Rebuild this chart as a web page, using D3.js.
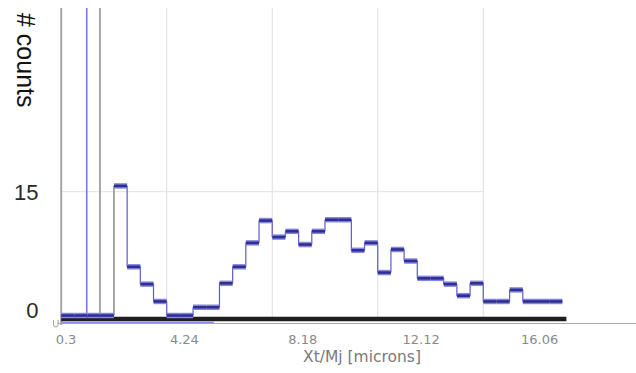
<!DOCTYPE html>
<html>
<head>
<meta charset="utf-8">
<script src="https://cdn.jsdelivr.net/npm/d3@7/dist/d3.min.js"></script>
<style>
  html, body { margin: 0; padding: 0; background: #fff; }
  svg { display: block; }
</style>
</head>
<body>
<svg id="chart" width="636" height="373"></svg>
<script>
// Histogram of Xt/Mj sizes (microns)
const binStart = 0.14;          // left edge of first bin
const binWidth = 0.4389;        // bin width in microns
const counts = [0, 0, 0, 0, 15.7, 5.9, 3.8, 1.7, 0, 0, 1.0, 1.0, 3.9, 5.9, 8.8, 11.5,
                9.5, 10.2, 8.6, 10.2, 11.6, 11.6, 7.9, 8.8, 5.2, 8.0, 6.6, 4.5, 4.5, 3.8,
                2.4, 3.9, 1.7, 1.7, 3.1, 1.7, 1.7, 1.7];
const xTickValues = [0.3, 4.24, 8.18, 12.12, 16.06];
const xTickLabels = ["0.3", "4.24", "8.18", "12.12", "16.06"];
const yTickValues = [0, 15];
const blueMarker = 0.99;        // selected threshold
const grayMarker = 1.43;        // lower cutoff
const lowTraceEnd = 5.22;       // extent of the secondary trace
const gridEvery = 8;            // vertical grid every N bins

const svg = d3.select("#chart");
const W = 636, H = 373;
const plotTop = 8;

const x = d3.scaleLinear().domain([0.3, 16.06]).range([66, 539.6]);
const y = d3.scaleLinear().domain([0, 15]).range([315.5, 191.7]);

const edges = d3.range(counts.length + 1).map(i => binStart + i * binWidth);
const bins = counts.map((c, i) => ({ x0: edges[i], x1: edges[i + 1], v: c, i }));
const gridXs = edges.filter((e, i) => i > 0 && i % gridEvery === 0);
const lastGrid = gridXs[gridXs.length - 1];

// grid
const grid = svg.append("g");
grid.selectAll("line.vg").data(gridXs).join("line")
  .attr("x1", d => x(d)).attr("x2", d => x(d))
  .attr("y1", plotTop).attr("y2", y(0) + 3)
  .attr("stroke", "#dedede").attr("stroke-width", 1);
grid.append("line")
  .attr("x1", x(binStart)).attr("x2", x(lastGrid))
  .attr("y1", y(15)).attr("y2", y(15))
  .attr("stroke", "#e2e2e2").attr("stroke-width", 1);

// x axis line
svg.append("line")
  .attr("x1", 58).attr("x2", W)
  .attr("y1", 323.5).attr("y2", 323.5)
  .attr("stroke", "#a8a8a8").attr("stroke-width", 1.2);

// left frame and markers
svg.append("line")
  .attr("x1", x(binStart)).attr("x2", x(binStart))
  .attr("y1", plotTop).attr("y2", 325)
  .attr("stroke", "#a5a5a5").attr("stroke-width", 2);
svg.append("line")
  .attr("x1", x(blueMarker)).attr("x2", x(blueMarker))
  .attr("y1", plotTop).attr("y2", y(0))
  .attr("stroke", "#7a7ae0").attr("stroke-width", 1.6);
svg.append("line")
  .attr("x1", x(grayMarker)).attr("x2", x(grayMarker))
  .attr("y1", plotTop).attr("y2", y(0))
  .attr("stroke", "#a0a0a0").attr("stroke-width", 1.8);

// secondary trace under the baseline
svg.append("line")
  .attr("x1", x(binStart)).attr("x2", x(lowTraceEnd))
  .attr("y1", y(0) + 7).attr("y2", y(0) + 7)
  .attr("stroke", "#8c8ce6").attr("stroke-width", 1.6);

// baseline bar
svg.append("line")
  .attr("x1", x(binStart)).attr("x2", x(edges[edges.length - 1]) + 4)
  .attr("y1", y(0) + 3.5).attr("y2", y(0) + 3.5)
  .attr("stroke", "#1f1f1f").attr("stroke-width", 4.5);

// vertical connectors between bins
const firstNonZero = counts.findIndex(c => c > 0);
svg.append("line")
  .attr("x1", x(edges[firstNonZero])).attr("x2", x(edges[firstNonZero]))
  .attr("y1", y(0)).attr("y2", y(counts[firstNonZero]))
  .attr("stroke", "#8a8a8a").attr("stroke-width", 1.5);
const conn = bins.slice(1).filter(b => b.i > firstNonZero);
svg.selectAll("line.conn").data(conn).join("line")
  .attr("x1", d => x(d.x0)).attr("x2", d => x(d.x0))
  .attr("y1", d => y(counts[d.i - 1])).attr("y2", d => y(d.v))
  .attr("stroke", "#5a5ad0").attr("stroke-width", 1.2);

// horizontal step segments
svg.selectAll("line.halo").data(bins).join("line")
  .attr("x1", d => x(d.x0)).attr("x2", d => x(d.x1))
  .attr("y1", d => y(d.v)).attr("y2", d => y(d.v))
  .attr("stroke", "#8686e2").attr("stroke-width", 5.5);
svg.selectAll("line.step").data(bins).join("line")
  .attr("x1", d => x(d.x0)).attr("x2", d => x(d.x1))
  .attr("y1", d => y(d.v)).attr("y2", d => y(d.v))
  .attr("stroke", "#2f2f90").attr("stroke-width", 2.6);

// small origin tick
svg.append("path")
  .attr("d", "M53.5,320 v4.5 q0,2.5 2.3,2.5 q2.3,0 2.3,-2.5 v-4.5")
  .attr("fill", "none").attr("stroke", "#a0a0a0").attr("stroke-width", 1);

// x tick labels
svg.selectAll("text.xt").data(xTickValues).join("text")
  .attr("x", d => x(d)).attr("y", 343.5)
  .attr("text-anchor", "middle")
  .attr("font-family", "DejaVu Sans, sans-serif")
  .attr("font-size", 13).attr("fill", "#8a8a8a")
  .text((d, i) => xTickLabels[i]);

// x axis title
svg.append("text")
  .attr("x", 362).attr("y", 362)
  .attr("text-anchor", "middle")
  .attr("font-family", "DejaVu Sans, sans-serif")
  .attr("font-size", 15.5).attr("fill", "#7a7a7a")
  .text("Xt/Mj [microns]");

// y tick labels
svg.selectAll("text.yt").data(yTickValues).join("text")
  .attr("x", 38.5)
  .attr("y", d => Math.min(y(d) + 8, 318))
  .attr("text-anchor", "end")
  .attr("font-family", "Liberation Sans, Arial, sans-serif")
  .attr("font-size", 22).attr("fill", "#2a2a2a")
  .text(d => d);

// y axis title
svg.append("text")
  .attr("transform", "translate(17,13) rotate(90)")
  .attr("font-family", "Liberation Sans, Arial, sans-serif")
  .attr("font-size", 25).attr("fill", "#111")
  .text("# counts");
</script>
</body>
</html>
